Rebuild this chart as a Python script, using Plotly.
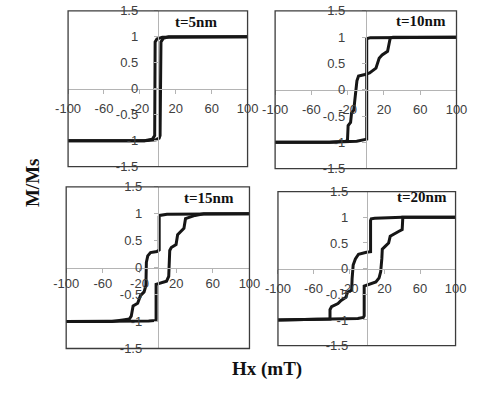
import plotly.graph_objects as go

# ---------------- data (H in mT, M/Ms) ----------------
h5_desc = [100, 15, 5, -1, -3, -3.5, -6, -15, -100]
m5_desc = [1, 1, 0.99, 0.96, 0.9, -0.9, -0.97, -1, -1]
h5_asc = [-100, -15, -2, 1.5, 2.5, 3.5, 6, 12, 100]
m5_asc = [-1, -1, -0.98, -0.95, -0.9, 0.9, 0.97, 1, 1]

h10_desc = [100, 30, 5, 1, 1, -10, -40, -100]
m10_desc = [1, 1, 0.99, 0.97, -0.94, -0.98, -1, -1]
h10_asc = [-100, -40, -22, -20.2, -19.5, -16.8, -15.7, -13.3, -9.8, -8, -1, 4.2,
           11.2, 14.7, 18, 24, 26.9, 30, 100]
m10_asc = [-1, -1, -0.98, -0.96, -0.68, -0.62, -0.44, -0.39, 0.17, 0.26, 0.29, 0.32,
           0.41, 0.6, 0.66, 0.73, 0.98, 1, 1]

h15_desc = [100, 40, 10, 2, 1.5, 1.5, -1, -8, -11, -12.5, -13, -15, -19, -22, -27,
            -29, -31, -38, -50, -100]
m15_desc = [1, 1, 0.99, 0.97, 0.95, 0.33, 0.3, 0.28, 0.22, 0.1, -0.33, -0.45, -0.52,
            -0.66, -0.71, -0.9, -0.95, -0.97, -1, -1]
h15_asc = [-100, -40, -10, -2, -1.9, -1.9, 2.6, 9.5, 11.9, 13, 14.7, 19.9, 21.6, 25,
           28.5, 30.2, 35.4, 40.6, 50, 100]
m15_asc = [-1, -1, -0.99, -0.98, -0.95, -0.31, -0.29, -0.25, -0.16, 0.32, 0.375, 0.43,
           0.61, 0.67, 0.73, 0.91, 0.94, 0.97, 1, 1]

h20_desc = [100, 40, 9, 5, 4.3, 4.3, -0.4, -9.3, -12.8, -15.3, -16.5, -17, -21.7,
            -23.5, -28.9, -32.4, -39.6, -41.4, -41.4, -60, -100]
m20_desc = [1, 1, 0.98, 0.97, 0.94, 0.33, 0.32, 0.28, 0.19, 0.07, -0.2, -0.42, -0.46,
            -0.56, -0.62, -0.68, -0.74, -0.8, -0.98, -0.99, -1]
h20_asc = [-100, -60, -10, -3.9, -2.9, -2.9, 1.4, 10.3, 13.9, 15.7, 17, 17.5, 21,
           24.6, 26.4, 30, 35.3, 39.9, 40.6, 50, 100]
m20_asc = [-1, -0.99, -0.97, -0.95, -0.92, -0.34, -0.31, -0.26, -0.18, -0.06, 0.2,
           0.38, 0.44, 0.5, 0.63, 0.66, 0.72, 0.76, 1.0, 1, 1]

panel_titles = ["t=5nm", "t=10nm", "t=15nm", "t=20nm"]
x_tick_vals = [-100, -60, -20, 20, 60, 100]
x_tick_text = ["-100", "-60", "-20", "20", "60", "100"]
y_tick_vals = [-1.5, -1, -0.5, 0, 0.5, 1, 1.5]
y_tick_text = ["-1.5", "-1", "-0.5", "0", "0.5", "1", "1.5"]
x_title = "Hx (mT)"
y_title = "M/Ms"

panels = [
    (h5_desc, m5_desc, h5_asc, m5_asc),
    (h10_desc, m10_desc, h10_asc, m10_asc),
    (h15_desc, m15_desc, h15_asc, m15_asc),
    (h20_desc, m20_desc, h20_asc, m20_asc),
]

# ---------------- layout ----------------
W, H = 477, 394
# plot boxes in pixels: left, right, top, bottom
boxes = [(58, 247, 4, 166), (276, 467, 4, 168), (56, 249, 187, 355), (279, 466, 192, 352)]
title_pos = [(0.714, 0.93), (0.806, 0.933), (0.777, 0.929), (0.813, 0.9625)]
x_standoff = [4, 4, 0, 4]
y_standoff = [13, 14, 9, 12]

LINE = "#161616"
AX = "#b4b4b4"
FRAME = "#3c3c3c"
TICKFONT = dict(family="Liberation Sans, Arial, sans-serif", size=13, color="#404040")

fig = go.Figure()
layout = dict(
    width=W, height=H,
    margin=dict(l=0, r=0, t=0, b=0),
    paper_bgcolor="white", plot_bgcolor="white",
    showlegend=False,
    shapes=[], annotations=[],
)

for i, (hd, md, ha, ma) in enumerate(panels):
    n = "" if i == 0 else str(i + 1)
    l, r, t, b = boxes[i]
    xd = [l / W, r / W]
    yd = [1 - b / H, 1 - t / H]
    for hx, mm in ((hd, md), (ha, ma)):
        fig.add_trace(go.Scatter(x=hx, y=mm, mode="lines", xaxis="x" + n, yaxis="y" + n,
                                 line=dict(color=LINE, width=3), hoverinfo="skip"))
    layout["xaxis" + n] = dict(
        domain=xd, range=[-100, 100], anchor="free", position=(yd[0] + yd[1]) / 2,
        showgrid=False, zeroline=False, showline=True, linecolor=AX, linewidth=1,
        ticks="outside", ticklen=4, tickcolor=AX, tickvals=x_tick_vals, ticktext=x_tick_text,
        tickfont=TICKFONT, ticklabelstandoff=x_standoff[i], fixedrange=True,
    )
    layout["yaxis" + n] = dict(
        domain=yd, range=[-1.5, 1.5], anchor="free", position=(xd[0] + xd[1]) / 2,
        showgrid=False, zeroline=False, showline=True, linecolor=AX, linewidth=1,
        ticks="outside", ticklen=4, tickcolor=AX, tickvals=y_tick_vals, ticktext=y_tick_text,
        tickfont=TICKFONT, ticklabelstandoff=y_standoff[i], fixedrange=True,
    )
    layout["shapes"].append(dict(type="rect", xref="x" + n + " domain", yref="y" + n + " domain",
                                 x0=0, x1=1, y0=0, y1=1, line=dict(color=FRAME, width=1.3),
                                 layer="above"))
    layout["annotations"].append(dict(
        text="<b>" + panel_titles[i] + "</b>", xref="x" + n + " domain", yref="y" + n + " domain",
        x=title_pos[i][0], y=title_pos[i][1], showarrow=False, xanchor="center", yanchor="middle",
        font=dict(family="Liberation Serif, Times New Roman, serif", size=15, color="#111111")))

layout["annotations"].append(dict(
    text="<b>" + y_title + "</b>", xref="paper", yref="paper", x=20 / W, y=1 - 182 / H,
    showarrow=False, textangle=-90, xanchor="center", yanchor="middle",
    font=dict(family="Liberation Serif, Times New Roman, serif", size=19, color="#111111")))
layout["annotations"].append(dict(
    text="<b>" + x_title + "</b>", xref="paper", yref="paper", x=267 / W, y=1 - 376 / H,
    showarrow=False, xanchor="center", yanchor="middle",
    font=dict(family="Liberation Serif, Times New Roman, serif", size=19, color="#111111")))

fig.update_layout(**layout)
fig.write_html("out.html", config={"displayModeBar": False, "staticPlot": True},
               post_script="document.body.style.margin='0';document.body.style.overflow='hidden';")
